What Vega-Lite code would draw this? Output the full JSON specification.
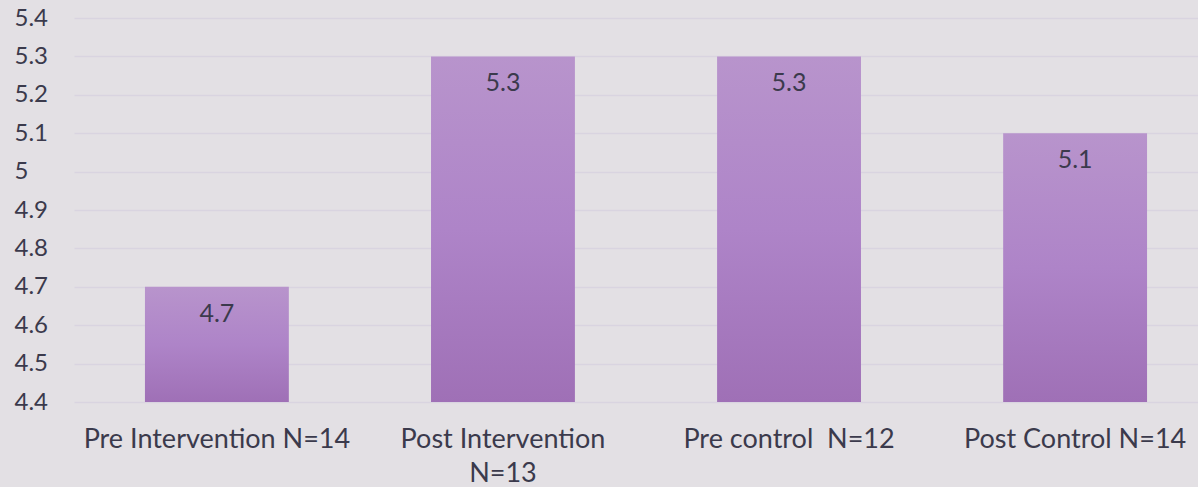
{
  "$schema": "https://vega.github.io/schema/vega-lite/v6.json",
  "width": 1124,
  "height": 384,
  "autosize": {"type": "none"},
  "padding": {"left": 74, "top": 18, "right": 0, "bottom": 85},
  "background": "#e3e0e4",
  "config": {"view": {"stroke": null}, "font": "Lato"},
  "data": {
    "values": [
      {"group": "Pre Intervention N=14", "value": 4.7},
      {"group": "Post Intervention N=13", "value": 5.3},
      {"group": "Pre control\u00a0 N=12", "value": 5.3},
      {"group": "Post Control N=14", "value": 5.1}
    ]
  },
  "encoding": {
    "x": {
      "field": "group",
      "type": "nominal",
      "sort": null,
      "scale": {"range": [0, 1144], "paddingInner": 0.497, "paddingOuter": 0.248},
      "axis": {
        "title": null,
        "labelAngle": 0,
        "domain": false,
        "ticks": false,
        "tickSize": 0,
        "labelPadding": 24,
        "labelFontSize": 27,
        "labelColor": "#3b3a4c",
        "labelFont": "Lato",
        "labelLimit": 400,
        "labelLineHeight": 34,
        "labelExpr": "datum.value == 'Post Intervention N=13' ? ['Post Intervention', 'N=13'] : datum.value"
      }
    },
    "y": {
      "field": "value",
      "type": "quantitative",
      "scale": {"domain": [4.4, 5.4], "zero": false, "nice": false},
      "axis": {
        "title": null,
        "values": [4.4, 4.5, 4.6, 4.7, 4.8, 4.9, 5.0, 5.1, 5.2, 5.3, 5.4],
        "format": ".1~f",
        "domain": false,
        "ticks": false,
        "tickSize": 0,
        "labelAlign": "left",
        "labelPadding": 60,
        "labelFontSize": 24,
        "labelColor": "#3b3a4c",
        "labelFont": "Lato",
        "grid": true,
        "gridColor": "#d9d4e0",
        "gridWidth": 1.5
      }
    }
  },
  "layer": [
    {
      "mark": {
        "type": "bar",
        "color": {
          "gradient": "linear",
          "x1": 0, "y1": 0, "x2": 0, "y2": 1,
          "stops": [
            {"offset": 0, "color": "#b894cc"},
            {"offset": 0.5, "color": "#ae84c8"},
            {"offset": 1, "color": "#9f70b6"}
          ]
        }
      },
      "encoding": {"y2": {"datum": 4.4}}
    },
    {
      "mark": {"type": "text", "baseline": "top", "dy": 15, "fontSize": 25, "color": "#3b3a4c", "font": "Lato"},
      "encoding": {"text": {"field": "value", "type": "quantitative", "format": ".1f"}}
    }
  ]
}
